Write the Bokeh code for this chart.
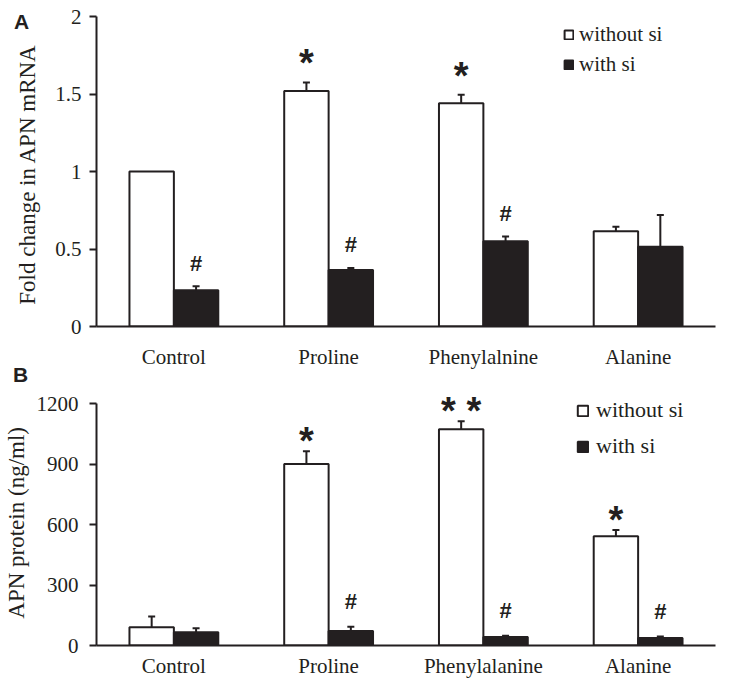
from bokeh.plotting import figure
from bokeh.models import (ColumnDataSource, FactorRange, Range1d, FixedTicker,
                          Legend, LegendItem, Div)
from bokeh.transform import dodge
from bokeh.layouts import column
from bokeh.core.properties import value
from bokeh.embed import file_html
from bokeh.resources import INLINE

# ---------------- data ----------------
cats_a = ["Control", "Proline", "Phenylalnine", "Alanine"]
a_without = [1.0, 1.52, 1.44, 0.615]
a_without_err = [0.0, 0.055, 0.055, 0.028]
a_with = [0.234, 0.365, 0.55, 0.514]
a_with_err = [0.026, 0.013, 0.03, 0.206]
a_mark_without = ["", "*", "*", ""]
a_mark_with = ["#", "#", "#", ""]
a_ticks = [0, 0.5, 1, 1.5, 2]
a_tick_labels = ["0", "0.5", "1", "1.5", "2"]
a_ylabel = "Fold change in APN  mRNA"

cats_b = ["Control", "Proline", "Phenylalanine", "Alanine"]
b_without = [90, 900, 1073, 542]
b_without_err = [54, 64, 39, 31]
b_with = [66, 72, 42, 37]
b_with_err = [19, 21, 6, 8]
b_mark_without = ["", "*", "* *", "*"]
b_mark_with = ["", "#", "#", "#"]
b_ticks = [0, 300, 600, 900, 1200]
b_tick_labels = ["0", "300", "600", "900", "1200"]
b_ylabel = "APN  protein (ng/ml)"

series_names = ["without si", "with si"]
panel_letters = ["A", "B"]

SERIF = "Liberation Serif"
SANS = "Liberation Sans"
INK = "#231f20"
W = 0.287


def make_panel(cats, wo, wo_err, wi, wi_err, mk_wo, mk_wi, ticks, tick_labels,
               ylabel, yend, height, mb_left, mb_top, mb_bottom,
               tick_standoff, label_standoff, x_standoff, legend_font,
               legend_loc, legend_glyph, legend_spacing, legend_standoff,
               star_off, hash_off):
    p = figure(x_range=FactorRange(*cats, range_padding=0),
               y_range=Range1d(0, yend),
               width=718, height=height, output_backend="svg",
               toolbar_location=None, min_border_left=mb_left,
               min_border_right=3, min_border_top=mb_top,
               min_border_bottom=mb_bottom)
    p.outline_line_color = None
    p.xgrid.visible = False
    p.ygrid.visible = False
    p.background_fill_color = "white"

    src = ColumnDataSource(dict(cat=cats, wo=wo, wi=wi))
    r_wo = p.vbar(x=dodge("cat", -W / 2, range=p.x_range), top="wo", width=W,
                  fill_color="white", line_color=INK, line_width=2, source=src)
    r_wi = p.vbar(x=dodge("cat", W / 2, range=p.x_range), top="wi", width=W,
                  fill_color=INK, line_color=INK, line_width=2, source=src)

    # error bars (upper only)
    for vals, errs, off in ((wo, wo_err, -W / 2), (wi, wi_err, W / 2)):
        idx = [i for i, e in enumerate(errs) if e > 0]
        es = ColumnDataSource(dict(cat=[cats[i] for i in idx],
                                   y0=[vals[i] for i in idx],
                                   y1=[vals[i] + errs[i] for i in idx]))
        p.segment(x0=dodge("cat", off, range=p.x_range), y0="y0",
                  x1=dodge("cat", off, range=p.x_range), y1="y1",
                  line_color=INK, line_width=2, source=es)
        p.scatter(x=dodge("cat", off, range=p.x_range), y="y1", marker="dash",
                  size=7, line_color=INK, line_width=2, source=es)

    # significance marks
    for vals, errs, marks, off, size, yoff in (
            (wo, wo_err, mk_wo, -W / 2, "38px", star_off),
            (wi, wi_err, mk_wi, W / 2, "22px", hash_off)):
        idx = [i for i, m in enumerate(marks) if m]
        ms = ColumnDataSource(dict(cat=[cats[i] for i in idx],
                                   y=[vals[i] + errs[i] for i in idx],
                                   t=[marks[i] for i in idx]))
        p.text(x=dodge("cat", off, range=p.x_range), y="y", text="t",
               text_font=value(SANS), text_font_style="bold",
               text_font_size=size, text_color=INK, text_align="center",
               text_baseline="alphabetic", y_offset=yoff, source=ms)

    ya = p.yaxis[0]
    ya.ticker = FixedTicker(ticks=ticks)
    ya.bounds = (ticks[0], ticks[-1])
    ya.major_label_overrides = {t: l for t, l in zip(ticks, tick_labels)}
    ya.axis_label = ylabel
    ya.axis_label_text_font = SERIF
    ya.axis_label_text_font_style = "normal"
    ya.axis_label_text_font_size = "23px"
    ya.axis_label_text_color = INK
    ya.axis_label_standoff = label_standoff
    ya.major_label_text_font = SERIF
    ya.major_label_text_font_size = "21px"
    ya.major_label_text_color = INK
    ya.major_label_standoff = tick_standoff
    ya.axis_line_width = 2
    ya.axis_line_color = INK
    ya.major_tick_line_width = 2
    ya.major_tick_line_color = INK
    ya.major_tick_out = 7
    ya.major_tick_in = 0
    ya.minor_tick_line_color = None

    xa = p.xaxis[0]
    xa.axis_line_width = 2
    xa.axis_line_color = INK
    xa.major_tick_line_color = None
    xa.minor_tick_line_color = None
    xa.major_tick_out = 0
    xa.major_tick_in = 0
    xa.major_label_text_font = SERIF
    xa.major_label_text_font_size = "21px"
    xa.major_label_text_color = INK
    xa.major_label_standoff = x_standoff

    legend = Legend(items=[LegendItem(label=series_names[0], renderers=[r_wo]),
                           LegendItem(label=series_names[1], renderers=[r_wi])],
                    location=legend_loc, glyph_width=legend_glyph,
                    glyph_height=legend_glyph, label_text_font=SERIF,
                    label_text_font_size=legend_font, label_text_color=INK,
                    border_line_color=None, background_fill_alpha=0,
                    padding=0, margin=0, spacing=legend_spacing,
                    label_standoff=legend_standoff)
    p.add_layout(legend)
    return p


def letter(text, left, top):
    return Div(text=text, width=24, height=24, margin=0,
               styles={"position": "absolute", "left": f"{left}px",
                       "top": f"{top}px", "z-index": "5",
                       "font-family": SANS, "font-weight": "bold",
                       "font-size": "21px", "color": INK,
                       "line-height": "24px"})


pa = make_panel(cats_a, a_without, a_without_err, a_with, a_with_err,
                a_mark_without, a_mark_with, a_ticks, a_tick_labels, a_ylabel,
                2, height=372, mb_left=87, mb_top=16, mb_bottom=46,
                tick_standoff=8, label_standoff=12, x_standoff=18,
                legend_font="21px", legend_loc=(467, 249),
                legend_glyph=11, legend_spacing=5, legend_standoff=5,
                star_off=-19, hash_off=-23)

pb = make_panel(cats_b, b_without, b_without_err, b_with, b_with_err,
                b_mark_without, b_mark_with, b_ticks, b_tick_labels, b_ylabel,
                1245, height=309, mb_left=91, mb_top=22, mb_bottom=36,
                tick_standoff=11, label_standoff=5, x_standoff=8,
                legend_font="22px", legend_loc=(480, 186),
                legend_glyph=13, legend_spacing=10, legend_standoff=7,
                star_off=-10, hash_off=-25)

layout = column(pa, pb, letter(panel_letters[0], 14, 10),
                letter(panel_letters[1], 13, 363))
open("out.html", "w").write(file_html(layout, INLINE))
